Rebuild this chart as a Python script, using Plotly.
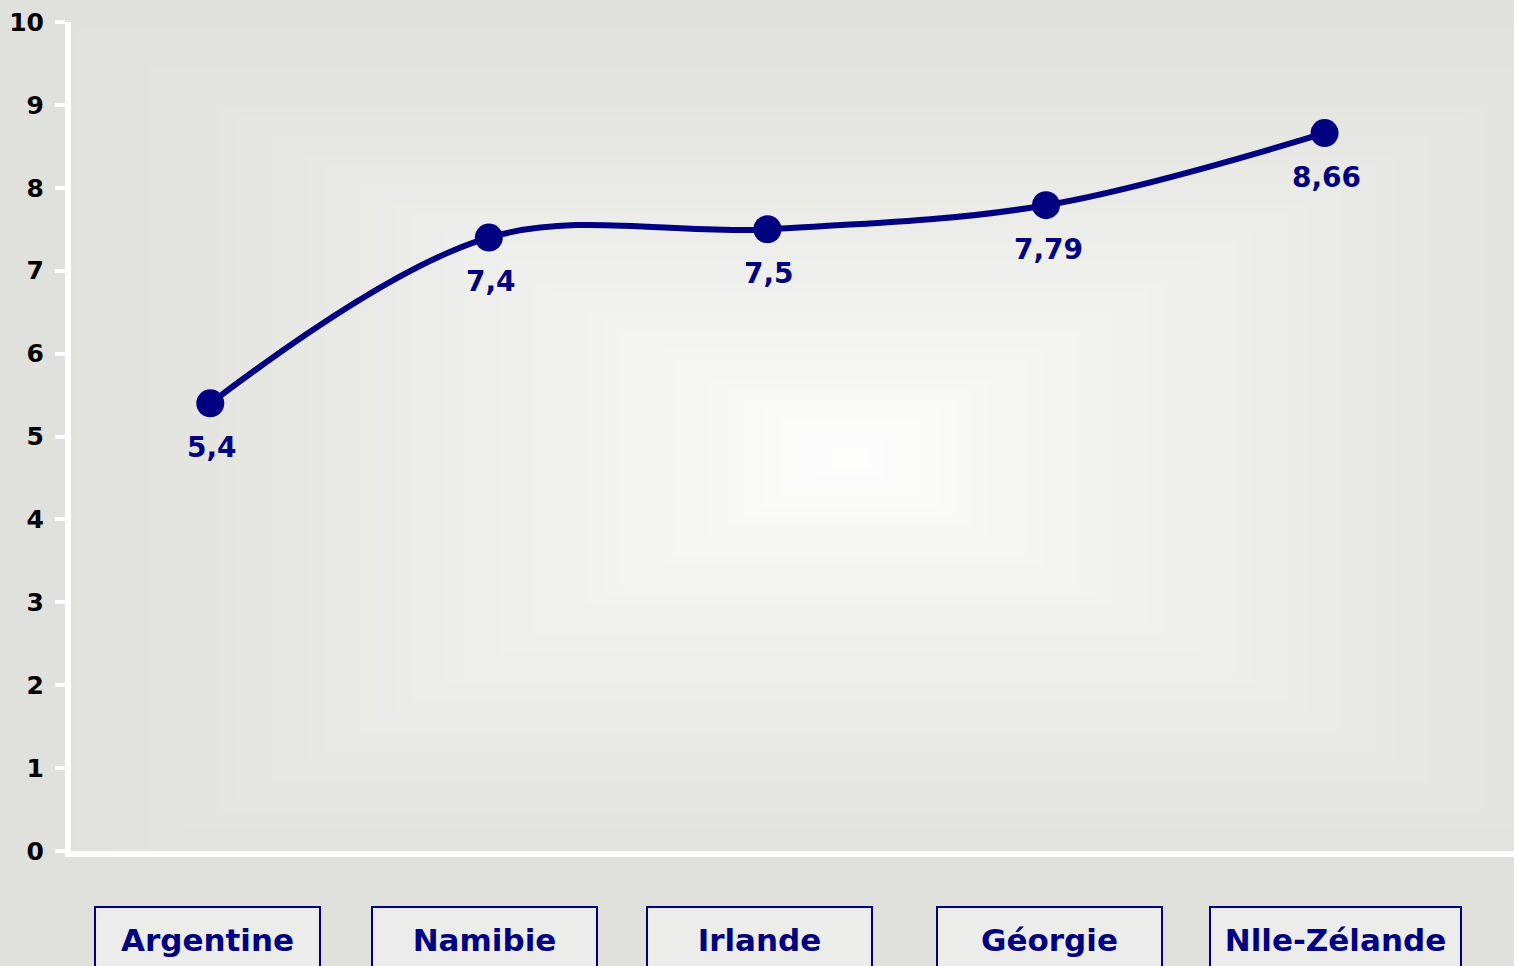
import plotly.graph_objects as go

categories = ["Argentine", "Namibie", "Irlande", "Géorgie", "Nlle-Zélande"]
values = [5.4, 7.4, 7.5, 7.79, 8.66]
value_labels = ["5,4", "7,4", "7,5", "7,79", "8,66"]
y_ticks = [0, 1, 2, 3, 4, 5, 6, 7, 8, 9, 10]

NAVY = "#000080"
GRAY = (224, 224, 220)
FONT = "DejaVu Sans"

W, H = 1514, 966
L, R, T, B = 71, 0, 22, 115
PW, PH = W - L - R, H - T - B

def px_to_paper(px, py):
    return (px - L) / PW, (H - B - py) / PH

x_idx = list(range(len(categories)))

fig = go.Figure()
fig.add_trace(go.Scatter(
    x=x_idx, y=values, mode="lines+markers",
    line=dict(color=NAVY, width=6, shape="spline", smoothing=1.0),
    marker=dict(color=NAVY, size=28),
    hoverinfo="skip", showlegend=False,
))

# rectangular centre gradient in plot area
shapes = []
N = 45
cx, cy, hw0, hh0 = 850, 458, 790, 440
for k in range(N):
    t = 1 - k / N
    hw, hh = hw0 * t, hh0 * t
    x0, x1 = max(cx - hw, L), min(cx + hw, W)
    y0, y1 = max(cy - hh, T), min(cy + hh, H - B)
    f = 1 - t ** 0.8
    col = tuple(round(g + (255 - g) * f) for g in GRAY)
    px0, py0 = px_to_paper(x0, y1)
    px1, py1 = px_to_paper(x1, y0)
    shapes.append(dict(type="rect", xref="paper", yref="paper",
                       x0=px0, x1=px1, y0=py0, y1=py1,
                       fillcolor="rgb(%d,%d,%d)" % col, line=dict(width=0),
                       layer="below"))

annotations = []
# data labels
for xi, v, lab in zip(x_idx, values, value_labels):
    annotations.append(dict(x=xi, y=v, xref="x", yref="y", text=lab,
                            showarrow=False, yshift=-44, xshift=2,
                            font=dict(family=FONT, size=28, color=NAVY, weight="bold")))

# category boxes
box_widths = [223, 223, 223, 223, 249]
box_shifts = [-2.5, -4, -8, 3, 10.5]
_, box_y = px_to_paper(0, 940)
for xi, cat, bw, sh in zip(x_idx, categories, box_widths, box_shifts):
    annotations.append(dict(x=xi, y=box_y, xref="x", yref="paper", text=cat,
                            showarrow=False, xshift=sh, width=bw, height=64,
                            align="center", valign="middle",
                            bordercolor=NAVY, borderwidth=2, borderpad=0,
                            bgcolor="#ececea", yanchor="middle",
                            font=dict(family=FONT, size=31, color=NAVY, weight="bold")))

fig.update_layout(
    width=W, height=H,
    margin=dict(l=L, r=R, t=T, b=B, pad=0),
    paper_bgcolor="rgb(%d,%d,%d)" % GRAY,
    plot_bgcolor="rgb(%d,%d,%d)" % GRAY,
    shapes=shapes, annotations=annotations,
    xaxis=dict(range=[-0.5, 4.68], showgrid=False, zeroline=False,
               showticklabels=False, ticks="", showline=True,
               linecolor="white", linewidth=6, fixedrange=True),
    yaxis=dict(range=[0, 10], tickvals=y_ticks, showgrid=False, zeroline=False,
               showline=True, linecolor="white", linewidth=6,
               ticks="outside", ticklen=10, tickwidth=4, tickcolor="white",
               ticklabelstandoff=6,
               tickfont=dict(family=FONT, size=25, color="black", weight="bold")),
    font=dict(family=FONT),
)

fig.write_html("out.html", config={"displayModeBar": False},
               post_script="document.body.style.margin='0';document.body.style.overflow='hidden';")
